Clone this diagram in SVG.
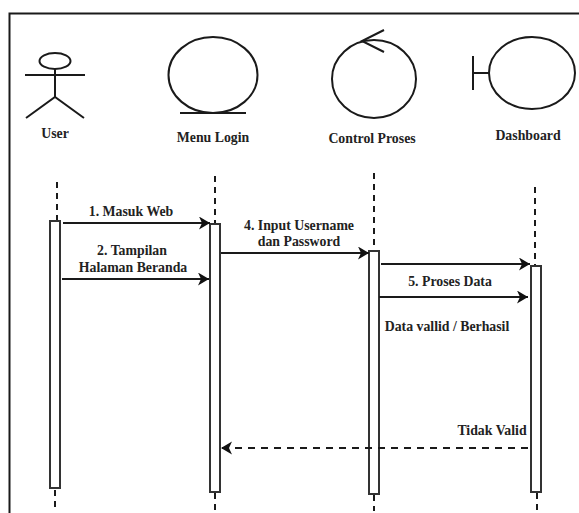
<svg xmlns="http://www.w3.org/2000/svg" width="579" height="513" viewBox="0 0 579 513">
<style>
text{font-family:"Liberation Serif","Times New Roman",serif;font-size:13.8px;font-weight:bold;fill:#222;text-anchor:middle}
.s{fill:none;stroke:#1a1a1a;stroke-width:2}
.a{fill:#fff;stroke:#333;stroke-width:2}
.l{fill:none;stroke:#1a1a1a;stroke-width:2;stroke-dasharray:6 5}
.m{fill:none;stroke:#1a1a1a;stroke-width:2;marker-end:url(#h)}
.d{stroke-dasharray:7 6}
</style>
<defs><marker id="h" markerUnits="userSpaceOnUse" markerWidth="12" markerHeight="14" refX="11" refY="6.5" orient="auto"><path d="M0 0L11 6.5L0 13L3 6.5Z" fill="#111"/></marker></defs>
<rect width="579" height="513" fill="#fff"/>
<path class="s" d="M9.5 513V13.5H579"/>
<g id="lifelines">
<path class="l" d="M57 182V220"/><path class="l" d="M215 176V224"/><path class="l" d="M374 173V251"/><path class="l" d="M535 187V266"/>
<path class="l" d="M55 490V507"/><path class="l" d="M215 493V513"/><path class="l" d="M374 495V511"/><path class="l" d="M537 493V510"/>
</g>
<g id="user"><ellipse class="s" cx="55" cy="61" rx="15.5" ry="8"/><path class="s" d="M25 75H85M55 69V97M26 118L55 97L84 118"/><text x="55" y="138">User</text><rect class="a" x="50" y="221" width="10" height="267"/></g>
<g id="menu-login"><ellipse class="s" cx="213" cy="75" rx="44.5" ry="38"/><path class="s" d="M180 113H246"/><text x="213" y="142">Menu Login</text><rect class="a" x="210" y="224" width="10" height="268"/></g>
<g id="control-proses"><ellipse class="s" cx="374" cy="79" rx="42" ry="39"/><path class="s" d="M384 30L362 41L384 52"/><text x="372" y="143">Control Proses</text><rect class="a" x="369" y="251" width="10" height="243"/></g>
<g id="dashboard"><ellipse class="s" cx="532" cy="73" rx="43" ry="36"/><path class="s" d="M473 56V90M473 73H490"/><text x="528" y="140">Dashboard</text><rect class="a" x="531" y="266" width="10" height="226"/></g>
<g id="connectors">
<path class="m" d="M63 223H210"/><path class="m" d="M62 279H209"/><path class="m" d="M221 253H369"/><path class="m" d="M381 264H530"/><path class="m" d="M379 297H528"/><path class="m d" d="M528 448H221"/>
</g>
<g id="labels">
<text x="131" y="216">1. Masuk Web</text>
<text x="132" y="255">2. Tampilan</text><text x="133" y="272">Halaman Beranda</text>
<text x="299" y="230">4. Input Username</text><text x="299" y="246">dan Password</text>
<text x="450" y="286">5. Proses Data</text>
<text x="447" y="331">Data vallid / Berhasil</text>
<text x="492" y="435">Tidak Valid</text>
</g>
</svg>
